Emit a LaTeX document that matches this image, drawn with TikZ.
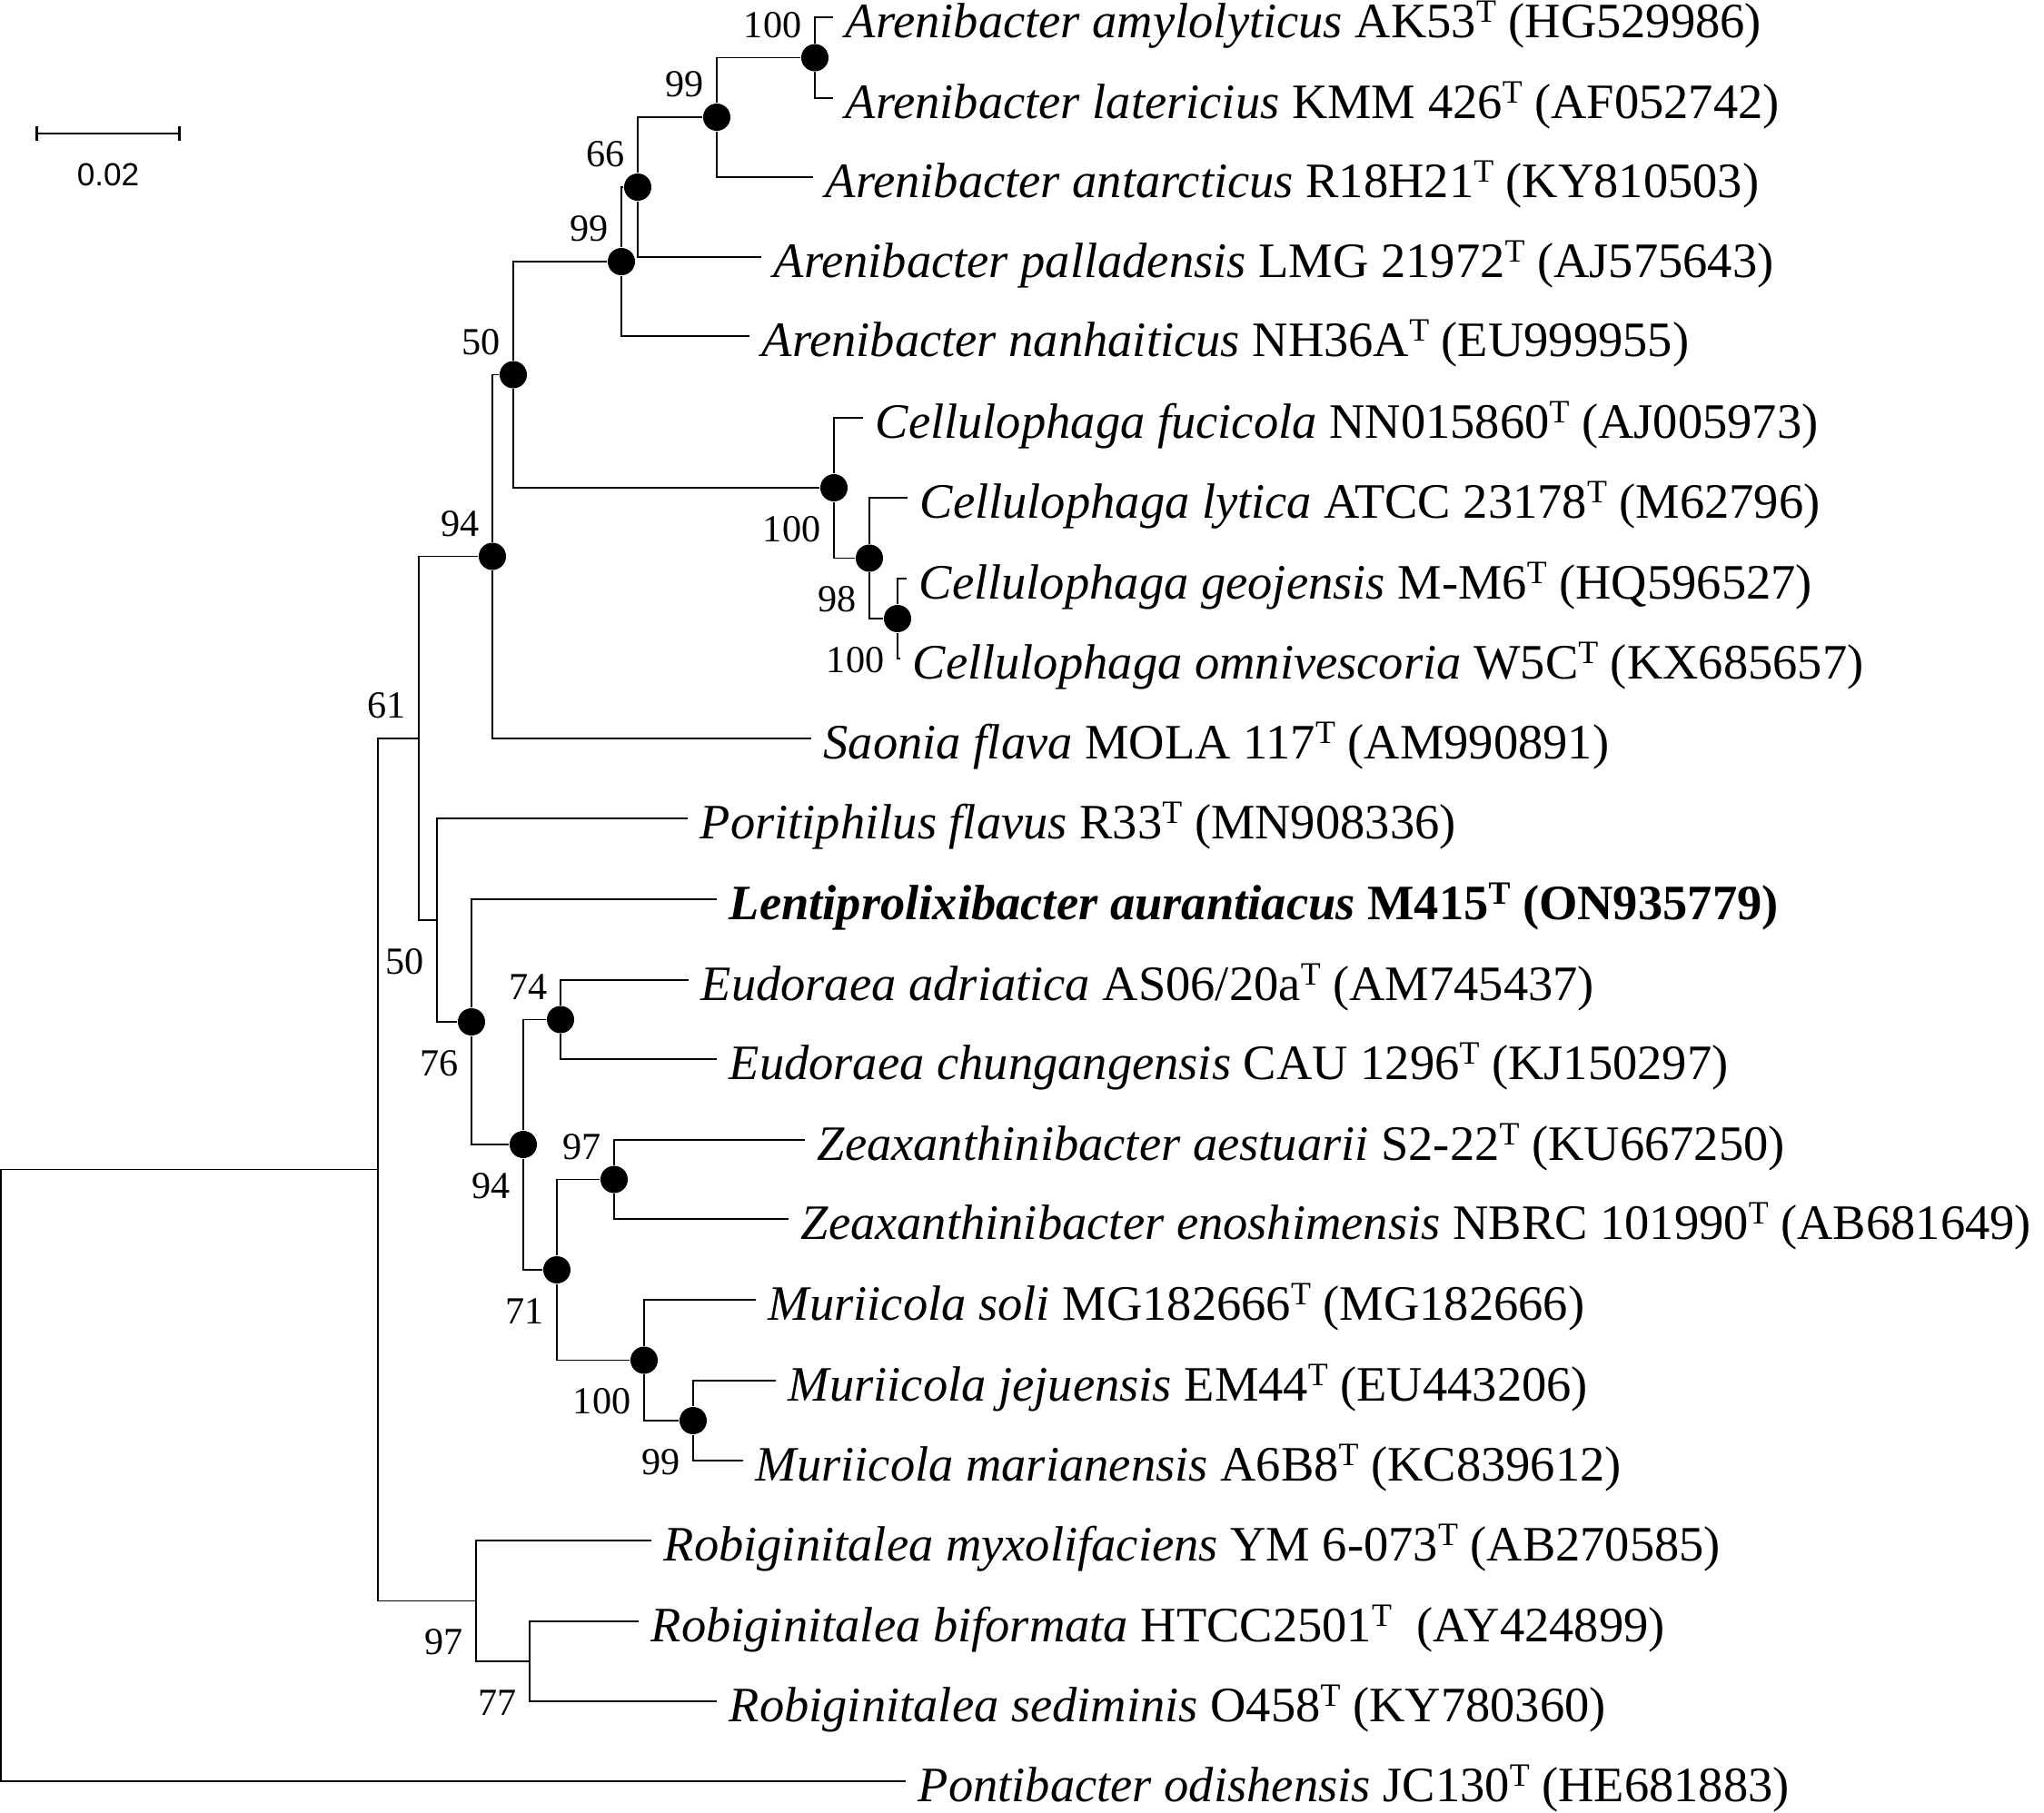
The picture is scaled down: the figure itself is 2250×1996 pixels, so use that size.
\documentclass[tikz,border=0pt]{standalone}
\usepackage{fontspec}
\setmainfont{Liberation Serif}
\setsansfont{Liberation Sans}
\usepackage{tikz}
\usetikzlibrary{calc,arrows.meta}

\newcommand{\typeT}{\raisebox{0.31em}{\fontsize{10.2}{10}\selectfont T}}

\begin{document}
\begin{tikzpicture}[x=0.01cm, y=-0.01cm,
    branch/.style={draw=black, line width=0.4pt},
    dot/.style={circle, fill=black, inner sep=0pt, minimum size=0.3cm},
    taxon/.style={anchor=base west, inner sep=0pt, xshift=0.13cm, yshift=-0.22cm, font=\fontsize{15.5}{18}\selectfont},
    bsup/.style={anchor=base east, inner sep=0pt, xshift=-0.14cm, yshift=0.22cm, font=\fontsize{12}{14}\selectfont},
    bsdown/.style={anchor=base east, inner sep=0pt, xshift=-0.14cm, yshift=-0.59cm, font=\fontsize{12}{14}\selectfont}]

    \useasboundingbox (0,0) rectangle (2250,1996);

    % internal nodes
    \coordinate (root) at (1,1624);
    \coordinate (ingroup) at (416,1287.5);
    \coordinate (core) at (461,813);
    \node[dot] (upper) at (542,612.5) {};
    \node[dot] (arcell) at (565,412.5) {};
    \node[dot] (aren) at (684,288) {};
    \node[dot] (aren66) at (702,206) {};
    \node[dot] (aren99) at (789,129) {};
    \node[dot] (aren100) at (897,63.5) {};
    \node[dot] (cell) at (918,537) {};
    \node[dot] (cell98) at (957,614.5) {};
    \node[dot] (cell100) at (988,681) {};
    \coordinate (lower) at (481,1013);
    \node[dot] (lenti) at (519,1125) {};
    \node[dot] (eudzm) at (576,1260) {};
    \node[dot] (eud) at (617,1122.5) {};
    \node[dot] (zm) at (613,1398) {};
    \node[dot] (zea) at (676,1298.5) {};
    \node[dot] (mur) at (709,1497.5) {};
    \node[dot] (mur99) at (763,1564) {};
    \coordinate (robi) at (524,1762.5);
    \coordinate (robi77) at (583,1829);

    % leaves
    \coordinate (amy) at (917,19);
    \coordinate (lat) at (917,108);
    \coordinate (ant) at (895,195);
    \coordinate (pal) at (838,283);
    \coordinate (nan) at (825,370);
    \coordinate (fuc) at (950,460);
    \coordinate (lyt) at (999,548);
    \coordinate (geo) at (998,637);
    \coordinate (omn) at (991,725);
    \coordinate (sao) at (893,813);
    \coordinate (por) at (757,901);
    \coordinate (len) at (789,990);
    \coordinate (adr) at (758,1079);
    \coordinate (chu) at (789,1166);
    \coordinate (aes) at (886,1255);
    \coordinate (eno) at (868,1342);
    \coordinate (sol) at (832,1431);
    \coordinate (jej) at (854,1520);
    \coordinate (mar) at (818,1608);
    \coordinate (myx) at (717,1696);
    \coordinate (bif) at (703,1785);
    \coordinate (sed) at (789,1873);
    \coordinate (pon) at (997,1961);

    % branches
    \draw[branch] (root) |- (ingroup);
    \draw[branch] (root) |- (pon);
    \draw[branch] (ingroup) |- (core);
    \draw[branch] (ingroup) |- (robi);
    \draw[branch] (core) |- (upper);
    \draw[branch] (core) |- (lower);
    \draw[branch] (upper) |- (arcell);
    \draw[branch] (upper) |- (sao);
    \draw[branch] (arcell) |- (aren);
    \draw[branch] (arcell) |- (cell);
    \draw[branch] (aren) |- (aren66);
    \draw[branch] (aren) |- (nan);
    \draw[branch] (aren66) |- (aren99);
    \draw[branch] (aren66) |- (pal);
    \draw[branch] (aren99) |- (aren100);
    \draw[branch] (aren99) |- (ant);
    \draw[branch] (aren100) |- (amy);
    \draw[branch] (aren100) |- (lat);
    \draw[branch] (cell) |- (fuc);
    \draw[branch] (cell) |- (cell98);
    \draw[branch] (cell98) |- (lyt);
    \draw[branch] (cell98) |- (cell100);
    \draw[branch] (cell100) |- (geo);
    \draw[branch] (cell100) |- (omn);
    \draw[branch] (lower) |- (por);
    \draw[branch] (lower) |- (lenti);
    \draw[branch] (lenti) |- (len);
    \draw[branch] (lenti) |- (eudzm);
    \draw[branch] (eudzm) |- (eud);
    \draw[branch] (eudzm) |- (zm);
    \draw[branch] (eud) |- (adr);
    \draw[branch] (eud) |- (chu);
    \draw[branch] (zm) |- (zea);
    \draw[branch] (zm) |- (mur);
    \draw[branch] (zea) |- (aes);
    \draw[branch] (zea) |- (eno);
    \draw[branch] (mur) |- (sol);
    \draw[branch] (mur) |- (mur99);
    \draw[branch] (mur99) |- (jej);
    \draw[branch] (mur99) |- (mar);
    \draw[branch] (robi) |- (myx);
    \draw[branch] (robi) |- (robi77);
    \draw[branch] (robi77) |- (bif);
    \draw[branch] (robi77) |- (sed);

    % bootstrap values
    \node[bsup] (bs-core) at (core) {61};
    \node[bsup] (bs-upper) at (upper) {94};
    \node[bsup] (bs-arcell) at (arcell) {50};
    \node[bsup] (bs-aren) at (aren) {99};
    \node[bsup] (bs-aren66) at (aren66) {66};
    \node[bsup] (bs-aren99) at (aren99) {99};
    \node[bsup] (bs-aren100) at (aren100) {100};
    \node[bsdown] (bs-cell) at (cell) {100};
    \node[bsdown] (bs-cell98) at (cell98) {98};
    \node[bsdown] (bs-cell100) at (cell100) {100};
    \node[bsdown] (bs-lower) at (lower) {50};
    \node[bsdown] (bs-lenti) at (lenti) {76};
    \node[bsdown] (bs-eudzm) at (eudzm) {94};
    \node[bsup] (bs-eud) at (eud) {74};
    \node[bsdown] (bs-zm) at (zm) {71};
    \node[bsup] (bs-zea) at (zea) {97};
    \node[bsdown] (bs-mur) at (mur) {100};
    \node[bsdown] (bs-mur99) at (mur99) {99};
    \node[bsdown] (bs-robi) at (robi) {97};
    \node[bsdown] (bs-robi77) at (robi77) {77};

    % taxa
    \node[taxon] (amy-t) at (amy) {\textit{Arenibacter amylolyticus} AK53\typeT{} (HG529986)};
    \node[taxon] (lat-t) at (lat) {\textit{Arenibacter latericius} KMM 426\typeT{} (AF052742)};
    \node[taxon] (ant-t) at (ant) {\textit{Arenibacter antarcticus} R18H21\typeT{} (KY810503)};
    \node[taxon] (pal-t) at (pal) {\textit{Arenibacter palladensis} LMG 21972\typeT{} (AJ575643)};
    \node[taxon] (nan-t) at (nan) {\textit{Arenibacter nanhaiticus} NH36A\typeT{} (EU999955)};
    \node[taxon] (fuc-t) at (fuc) {\textit{Cellulophaga fucicola} NN015860\typeT{} (AJ005973)};
    \node[taxon] (lyt-t) at (lyt) {\textit{Cellulophaga lytica} ATCC 23178\typeT{} (M62796)};
    \node[taxon] (geo-t) at (geo) {\textit{Cellulophaga geojensis} M-M6\typeT{} (HQ596527)};
    \node[taxon] (omn-t) at (omn) {\textit{Cellulophaga omnivescoria} W5C\typeT{} (KX685657)};
    \node[taxon] (sao-t) at (sao) {\textit{Saonia flava} MOLA 117\typeT{} (AM990891)};
    \node[taxon] (por-t) at (por) {\textit{Poritiphilus flavus} R33\typeT{} (MN908336)};
    \node[taxon] (len-t) at (len) {\bfseries\textit{Lentiprolixibacter aurantiacus} M415\typeT{} (ON935779)};
    \node[taxon] (adr-t) at (adr) {\textit{Eudoraea adriatica} AS06/20a\typeT{} (AM745437)};
    \node[taxon] (chu-t) at (chu) {\textit{Eudoraea chungangensis} CAU 1296\typeT{} (KJ150297)};
    \node[taxon] (aes-t) at (aes) {\textit{Zeaxanthinibacter aestuarii} S2-22\typeT{} (KU667250)};
    \node[taxon] (eno-t) at (eno) {\textit{Zeaxanthinibacter enoshimensis} NBRC 101990\typeT{} (AB681649)};
    \node[taxon] (sol-t) at (sol) {\textit{Muriicola soli} MG182666\typeT{} (MG182666)};
    \node[taxon] (jej-t) at (jej) {\textit{Muriicola jejuensis} EM44\typeT{} (EU443206)};
    \node[taxon] (mar-t) at (mar) {\textit{Muriicola marianensis} A6B8\typeT{} (KC839612)};
    \node[taxon] (myx-t) at (myx) {\textit{Robiginitalea myxolifaciens} YM 6-073\typeT{} (AB270585)};
    \node[taxon] (bif-t) at (bif) {\textit{Robiginitalea biformata} HTCC2501\typeT{}\ \ (AY424899)};
    \node[taxon] (sed-t) at (sed) {\textit{Robiginitalea sediminis} O458\typeT{} (KY780360)};
    \node[taxon] (pon-t) at (pon) {\textit{Pontibacter odishensis} JC130\typeT{} (HE681883)};

    % scale bar
    \coordinate (sb-left) at (39,147);
    \coordinate (sb-right) at (199,147);
    \draw[line width=0.75pt, {Bar[width=0.16cm]}-{Bar[width=0.16cm]}] (sb-left) -- (sb-right);
    \node[anchor=base, inner sep=0pt, font=\sffamily\fontsize{10}{12}\selectfont] (sb-label) at ($(sb-left)!0.5!(sb-right) + (0,57)$) {0.02};

\end{tikzpicture}
\end{document}
